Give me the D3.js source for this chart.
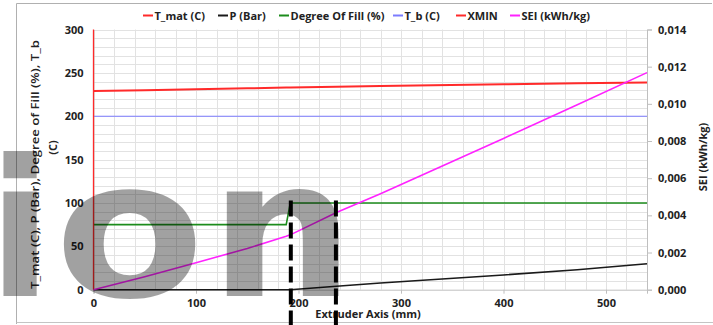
<!DOCTYPE html>
<html>
<head>
<meta charset="utf-8">
<script src="https://cdn.jsdelivr.net/npm/d3@7"></script>
<style>
  body { margin: 0; background: #fff; }
  text { font-family: 'Open Sans', sans-serif; font-weight: 700; fill: #222; }
</style>
</head>
<body>
<svg id="chart" width="713" height="325"></svg>
<script>
// extruder axis positions (mm) where the series are sampled
const axisPos = [0, 50, 100, 150, 188, 192, 237, 280, 400, 472, 540];
const tMat = [229, 230.1, 231.2, 232.2, 233, 233.1, 234, 234.8, 236.9, 238, 239];
const pBar = [0, 0, 0, 0, 0, 0, 3.9, 7.7, 17, 23, 30];
const fillPct = [75, 75, 75, 75, 75, 100, 100, 100, 100, 100, 100];
const tB = [200, 200, 200, 200, 200, 200, 200, 200, 200, 200, 200];
const sei = [0, 0.0007, 0.00145, 0.00222, 0.00287, 0.00295, 0.00415, 0.00516, 0.00814, 0.00995, 0.01168];
const xminPos = [0, 0];
const xminVal = [0, 300];
const markerPos = [192.5, 236.5];

const leftTicks = [0, 50, 100, 150, 200, 250, 300];
const rightTicks = [0, 0.002, 0.004, 0.006, 0.008, 0.010, 0.012, 0.014];
const xTicks = [0, 100, 200, 300, 400, 500];

const legendNames = ['T_mat (C)', 'P (Bar)', 'Degree Of Fill (%)', 'T_b (C)', 'XMIN', 'SEI (kWh/kg)'];
const legendColors = ['#ff2a2a', '#1a1a1a', '#1c8c1c', '#7c7cff', '#ff2a2a', '#ff22ff'];
const legendX = [143, 218, 279, 393, 456, 510];

const svg = d3.select('#chart');

// chart outline
svg.append('path')
  .attr('d', 'M16.5,324 V3.5 H712')
  .attr('fill', 'none').attr('stroke', '#b0b0b0');
svg.append('line')
  .attr('x1', 16.5).attr('x2', 713).attr('y1', 322.5).attr('y2', 322.5)
  .attr('stroke', '#c4c4c4');

const x = d3.scaleLinear().domain([0, 540]).range([93.5, 647]);
const y = d3.scaleLinear().domain([0, 300]).range([289.7, 29.5]);
const y2 = d3.scaleLinear().domain([0, 0.014]).range([289.7, 29.5]);

// grid
const grid = svg.append('g').attr('stroke', '#e2e2e2').attr('stroke-width', 1);
grid.selectAll('.hg').data(d3.range(10, 301, 10)).enter().append('line')
  .attr('x1', x(0)).attr('x2', x(540))
  .attr('y1', d => Math.round(y(d)) + 0.5).attr('y2', d => Math.round(y(d)) + 0.5);
grid.selectAll('.vg').data(d3.range(20, 540, 20)).enter().append('line')
  .attr('y1', y(0)).attr('y2', y(300))
  .attr('x1', d => Math.round(x(d)) + 0.5).attr('x2', d => Math.round(x(d)) + 0.5);

// axes
const comma = d3.formatLocale({ decimal: ',', thousands: '.', grouping: [3], currency: ['', ''] });

const gx = svg.append('g').attr('transform', 'translate(0,' + y(0) + ')')
  .call(d3.axisBottom(x).tickValues(xTicks).tickSize(4).tickPadding(6));
const gl = svg.append('g').attr('transform', 'translate(' + x(0) + ',0)')
  .call(d3.axisLeft(y).tickValues(leftTicks).tickSize(0).tickPadding(10));
const gr = svg.append('g').attr('transform', 'translate(' + x(540) + ',0)')
  .call(d3.axisRight(y2).tickValues(rightTicks).tickSize(5).tickPadding(6)
    .tickFormat(comma.format('.3f')));

[gx, gl, gr].forEach(g => {
  g.select('.domain').attr('stroke', '#bfbfbf');
  g.selectAll('.tick line').attr('stroke', '#bfbfbf');
  g.selectAll('.tick text').style('font-size', '11px').style('font-weight', 700)
    .style('font-family', "'Open Sans', sans-serif").attr('fill', '#222');
});

// series
const line = (xs, ys, sc) => d3.line().x((d, i) => x(xs[i])).y(d => sc(d))(ys);

function drawSeries(vals, color, width, scale, xs) {
  svg.append('path')
    .attr('d', line(xs || axisPos, vals, scale || y))
    .attr('fill', 'none').attr('stroke', color).attr('stroke-width', width);
}
drawSeries(tB, legendColors[3], 1.2);
drawSeries(tMat, legendColors[0], 2);
drawSeries(fillPct, legendColors[2], 1.6);
drawSeries(pBar, legendColors[1], 1.6);
drawSeries(xminVal, legendColors[4], 1.3, y, xminPos);
drawSeries(sei, legendColors[5], 1.6, y2);

// legend
const lg = svg.append('g');
legendNames.forEach((name, i) => {
  lg.append('line').attr('x1', legendX[i]).attr('x2', legendX[i] + 10)
    .attr('y1', 15.5).attr('y2', 15.5).attr('stroke', legendColors[i]).attr('stroke-width', 2);
  lg.append('text').attr('x', legendX[i] + 11.5).attr('y', 19.5)
    .style('font-size', '11px').text(name);
});

// axis titles
svg.append('text').attr('transform', 'translate(38.5,164.5) rotate(-90)')
  .attr('text-anchor', 'middle').style('font-size', '11.5px').style('font-weight', 600)
  .attr('textLength', 249).attr('lengthAdjust', 'spacingAndGlyphs')
  .text('T_mat (C), P (Bar), Degree of Fill (%), T_b');
svg.append('text').attr('transform', 'translate(57,147.5) rotate(-90)')
  .attr('text-anchor', 'middle').style('font-size', '11px').text('(C)');
svg.append('text').attr('transform', 'translate(707,157) rotate(-90)')
  .attr('text-anchor', 'middle').style('font-size', '11px').text('SEI (kWh/kg)');
svg.append('text').attr('x', 368).attr('y', 318)
  .attr('text-anchor', 'middle').style('font-size', '11px').text('Extruder Axis (mm)');

// grey watermark letters over the chart
const wm = svg.append('g').attr('fill', '#000').attr('fill-opacity', 0.37);
[['i', 20, 1], ['o', 129.5, 1.15], ['n', 282, 1.07]].forEach(([ch, cx, sx]) => {
  wm.append('text')
    .attr('transform', 'translate(' + cx + ',295.5) scale(' + sx + ',1)')
    .attr('text-anchor', 'middle')
    .style('font-family', "'DejaVu Sans', sans-serif").style('font-weight', 700)
    .style('font-size', '190px').style('fill', '#000')
    .text(ch);
});

// dashed black markers
svg.selectAll('.marker').data(markerPos).enter().append('line')
  .attr('x1', d => x(d)).attr('x2', d => x(d))
  .attr('y1', 200.5).attr('y2', 325)
  .attr('stroke', '#000').attr('stroke-width', 4).attr('stroke-dasharray', '16,6');
</script>
</body>
</html>
